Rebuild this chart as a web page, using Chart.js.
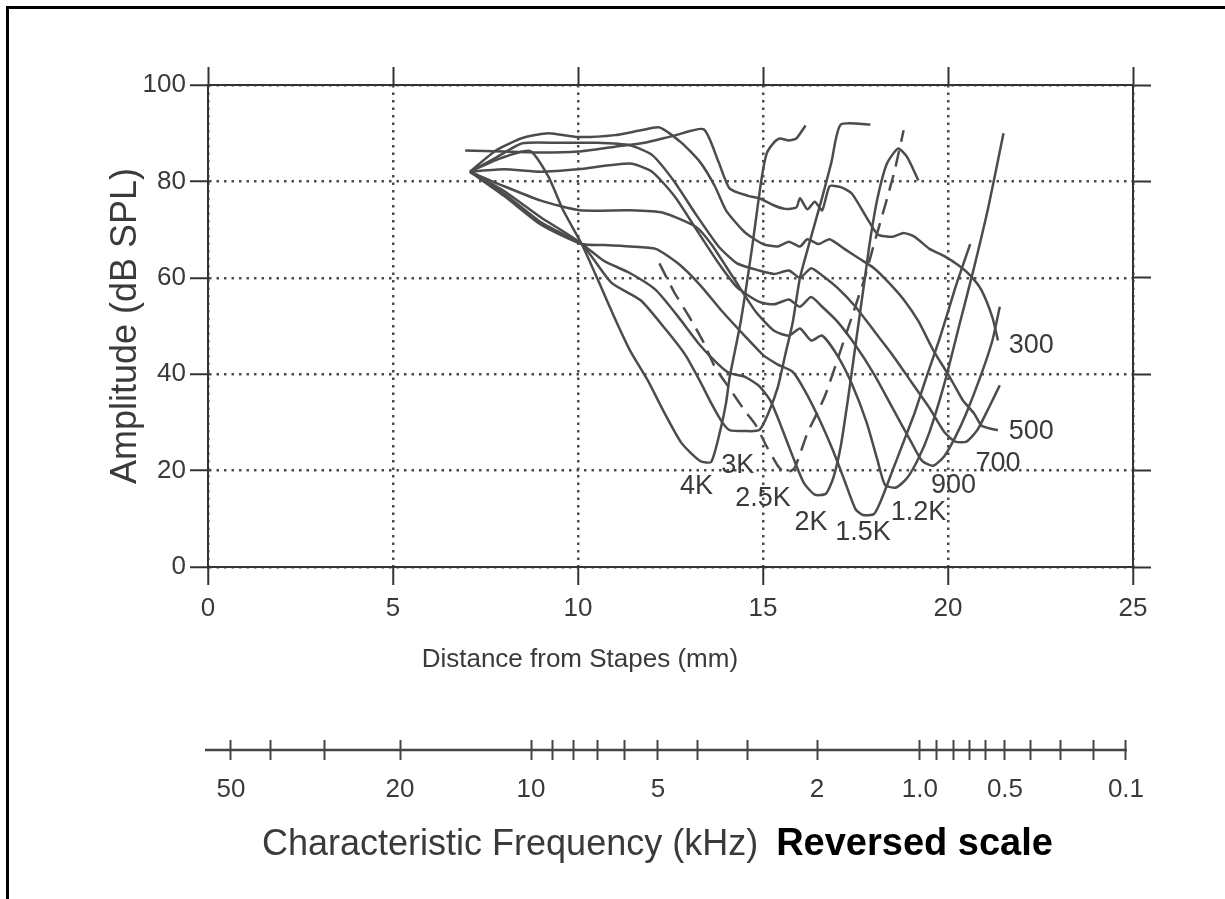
<!DOCTYPE html>
<html>
<head>
<meta charset="utf-8">
<script src="https://cdn.jsdelivr.net/npm/chart.js@4.4.1/dist/chart.umd.min.js"></script>
<style>
html,body{margin:0;padding:0;background:#fff;}
#wrap{position:absolute;left:0;top:0;width:1225px;height:899px;overflow:hidden;}
#frame{position:absolute;left:6px;top:6px;width:1230px;height:900px;border-left:3px solid #000;border-top:3px solid #000;box-sizing:border-box;pointer-events:none;}
canvas{position:absolute;left:0;top:0;}
</style>
</head>
<body>
<div id="wrap"><canvas id="c" width="1225" height="899"></canvas><div id="frame"></div></div>
<script>
// ---- data: [distance from stapes (mm), amplitude (dB SPL)] ----
const curve4K = [[7.08,82],[7.8,84.5],[8.7,86.3],[9.2,81],[9.6,74],[10.1,67],[10.6,58.5],[11.0,51.5],[11.4,45],[11.9,38.5],[12.3,32.5],[12.8,25.7],[13.3,22],[13.6,21.8],[13.85,28.5],[14.0,34],[14.1,39.4],[14.4,51],[14.7,66],[14.95,80],[15.1,85.8],[15.3,88.1],[15.45,88.9],[15.7,88.5],[15.9,88.9],[16.15,91.6]];
const curve3K = [[7.08,82],[8.0,78],[9.0,72.5],[10.1,67],[10.9,59],[11.7,55.3],[12.4,49],[12.9,44],[13.3,38.5],[13.6,34],[13.9,30],[14.1,28.4],[14.5,28.2],[14.9,28.4],[15.15,32],[15.4,37.3],[15.6,44],[15.8,50.6],[16.0,60],[16.3,68.5],[16.6,76.7],[16.85,84],[17.1,91.8],[17.9,91.8]];
const curve25K = [[12.2,63],[12.6,57],[13.0,52],[13.4,46.5],[13.7,41.5],[14.1,37],[14.5,32.5],[14.8,29.5],[15.1,25],[15.4,21],[15.6,19.5],[15.85,20.5],[16.2,27.8],[16.5,32.5],[16.7,36],[17.1,45],[17.45,53],[17.75,60],[18.0,67],[18.3,75],[18.55,82],[18.8,90.6]];
const curve2K = [[7.08,82],[8.0,77.5],[9.0,71.5],[10.1,67],[10.7,63.5],[11.4,61],[12.1,57.5],[12.7,52],[13.3,46],[13.8,42],[14.1,40.2],[14.5,39.5],[14.9,37.5],[15.2,34.5],[15.5,29],[15.8,23],[16.1,17.5],[16.4,15],[16.7,15.2],[16.9,18.5],[17.1,25],[17.3,35],[17.5,46],[17.7,57],[17.9,68],[18.1,76.7],[18.35,83.7],[18.65,86.8],[18.9,85],[19.2,80.2]];
const curve15K = [[7.08,82],[8.0,77],[9.0,71],[10.1,67],[10.7,66.8],[11.4,66.5],[12.1,66],[12.7,63],[13.3,58.5],[13.9,53],[14.5,48],[15.0,44],[15.4,42],[15.8,40.5],[16.1,37],[16.5,31],[16.9,24],[17.2,18],[17.5,12],[17.7,10.8],[18.0,11],[18.2,14],[18.5,20],[18.8,26],[19.1,32],[19.4,39],[19.8,48],[20.2,58],[20.6,67]];
const curve12K = [[7.08,82],[8.0,79],[9.0,76],[10.05,74],[11.4,74],[12.3,73.5],[13.2,70.5],[13.6,67],[14.2,60],[14.8,53],[15.3,49],[15.7,48],[16.0,49.5],[16.3,47],[16.6,48],[17.0,44],[17.4,38],[17.8,30],[18.1,22],[18.3,17],[18.6,16.5],[18.9,18.5],[19.2,22.5],[19.5,28],[19.9,38],[20.3,50],[20.7,62],[21.1,75],[21.5,90]];
const curve900 = [[7.08,82],[8.0,82.5],[9.0,82],[10.0,82.5],[11.4,83.7],[12.0,82],[12.6,77],[13.2,70],[13.8,63],[14.3,58],[14.9,55],[15.3,54.5],[15.7,55.5],[16.0,54],[16.3,56],[16.6,54],[17.0,51],[17.5,46],[18.0,40],[18.5,33],[19.0,26],[19.3,22],[19.6,21],[19.9,23],[20.2,27],[20.5,32],[20.9,40],[21.2,47],[21.4,54]];
const curve700 = [[7.08,82],[7.8,85],[8.5,87.9],[9.5,88],[10.5,88],[11.4,87.5],[12.0,85.5],[12.6,80],[13.2,73],[13.8,66.5],[14.3,63],[14.9,61.5],[15.3,60.8],[15.7,61.5],[16.0,60],[16.3,62],[16.6,60.5],[17.0,58],[17.5,54],[18.0,49],[18.5,44],[19.0,38.5],[19.5,33],[19.9,28],[20.2,26],[20.5,26],[20.8,28.5],[21.1,33],[21.4,37.7]];
const curve500 = [[7.08,82],[7.8,86.5],[8.5,89],[9.2,90],[10.0,89.2],[11.0,89.6],[11.7,90.6],[12.2,91.2],[12.8,88],[13.3,84],[13.7,79],[14.0,74],[14.5,69.5],[15.0,67],[15.4,66.5],[15.7,67.5],[16.0,66.5],[16.2,68],[16.5,67],[16.8,68],[17.2,66],[17.6,64],[18.0,62],[18.4,59],[18.8,55.5],[19.2,51],[19.6,45],[20.0,40],[20.2,37.3],[20.4,34.6],[20.7,31.9],[20.9,29.4],[21.1,28.8],[21.35,28.4]];
const curve300 = [[6.95,86.4],[8.0,86.2],[9.0,86],[10.0,86.2],[11.0,87.2],[11.8,88],[12.6,89.5],[13.4,90.8],[13.8,84],[14.1,78.5],[14.6,77],[14.9,76.5],[15.3,75],[15.6,74.3],[15.9,74.6],[16.0,76.5],[16.2,74.2],[16.4,75.8],[16.6,74],[16.8,79],[17.1,78.8],[17.4,77.5],[17.8,72.5],[18.1,69],[18.5,68.5],[18.8,69.3],[19.1,68.5],[19.5,66],[19.9,64.5],[20.3,62.5],[20.6,60.5],[20.9,57.5],[21.2,51.8],[21.35,47]];

// curve labels (frequency) and where they sit (mm, dB)
const labelText = ['4K','3K','2.5K','2K','1.5K','1.2K','900','700','500','300'];
const labelMm   = [13.2, 14.32, 15.0, 16.3, 17.7, 19.2, 20.15, 21.35, 22.25, 22.25];
const labelDb   = [16.7, 21.0, 14.3, 9.2, 7.2, 11.4, 17.0, 21.5, 28.2, 46.0];

// characteristic-frequency scale (kHz) and its position along the cochlea (mm)
const freqTickMm     = [0.62,1.70,3.14,5.19,8.73,9.32,9.89,10.54,11.27,12.16,13.22,14.59,16.46,19.24,19.68,20.16,20.57,21.0,21.54,22.22,23.03,23.92,24.81];
const freqTickLabels = ['50','','','20','10','','','','','5','','','2','1.0','','','','','0.5','','','','0.1'];

// ---- rendering ----
const FONT = '"Liberation Sans", Arial, Helvetica, sans-serif';
const INK = '#3a3a3a';
const LINE = '#4c4c4c';
const FRAME = '#333';

const series = [
  ['4K', curve4K, false], ['3K', curve3K, false], ['2.5K', curve25K, true], ['2K', curve2K, false],
  ['1.5K', curve15K, false], ['1.2K', curve12K, false], ['900', curve900, false], ['700', curve700, false],
  ['500', curve500, false], ['300', curve300, false]
];
const datasets = series.map(([name, pts, dashed]) => ({
  label: name,
  data: pts.map(p => ({x: p[0], y: p[1]})),
  showLine: true, pointRadius: 0, pointHoverRadius: 0,
  borderColor: LINE, borderWidth: 2.5, borderDash: dashed ? [16, 9] : [],
  tension: 0.2, fill: false, xAxisID: 'x', yAxisID: 'y'
}));

const annotate = {
  id: 'annotate',
  afterDraw(chart) {
    const {ctx} = chart;
    const x = chart.scales.x, y = chart.scales.y, xf = chart.scales.xf;
    ctx.save();
    ctx.fillStyle = INK;
    ctx.font = '27px ' + FONT;
    ctx.textAlign = 'center';
    ctx.textBaseline = 'middle';
    labelText.forEach((t, i) => ctx.fillText(t, x.getPixelForValue(labelMm[i]), y.getPixelForValue(labelDb[i])));
    // distance axis title
    ctx.font = '26px ' + FONT;
    ctx.fillText('Distance from Stapes (mm)', x.getPixelForValue(10.05), x.top + 93);
    // frequency axis line
    const ly = xf.top + 10;
    ctx.strokeStyle = '#444';
    ctx.lineWidth = 2.5;
    ctx.beginPath();
    ctx.moveTo(xf.getPixelForValue(0) - 3, ly);
    ctx.lineTo(xf.getPixelForValue(freqTickMm[freqTickMm.length - 1]) + 1, ly);
    ctx.stroke();
    // frequency axis title
    const t1 = 'Characteristic Frequency (kHz)', t2 = 'Reversed scale';
    ctx.textAlign = 'left';
    ctx.font = '36px ' + FONT; ctx.fillStyle = INK;
    const w1 = ctx.measureText(t1).width;
    const sx = xf.getPixelForValue(1.46);
    const ty = xf.bottom + 35;
    ctx.fillText(t1, sx, ty);
    ctx.font = 'bold 38px ' + FONT; ctx.fillStyle = '#000';
    ctx.fillText(t2, sx + w1 + 18, ty);
    ctx.restore();
  }
};

const tickFont = {family: FONT, size: 26};

new Chart(document.getElementById('c'), {
  type: 'scatter',
  data: {datasets},
  plugins: [annotate],
  options: {
    responsive: false, animation: false, devicePixelRatio: 1,
    layout: {padding: {left: 104, right: 72, top: 67, bottom: 89}},
    plugins: {legend: {display: false}, tooltip: {enabled: false}},
    scales: {
      x: {
        type: 'linear', position: 'bottom', min: 0, max: 25, weight: 0,
        ticks: {stepSize: 5, font: tickFont, color: INK, padding: 8, maxRotation: 0},
        grid: {color: LINE, lineWidth: 2.5, tickLength: 18, tickColor: FRAME, tickWidth: 2},
        border: {color: FRAME, width: 2, dash: [2.5, 5]},
        afterFit: s => { s.height = 173; }
      },
      xf: {
        type: 'linear', position: 'bottom', min: 0, max: 25, weight: 1,
        afterBuildTicks: s => { s.ticks = freqTickMm.map(v => ({value: v})); },
        ticks: {autoSkip: false, maxRotation: 0, font: tickFont, color: INK, padding: 14,
                callback: (v, i) => freqTickLabels[i]},
        grid: {drawOnChartArea: false, tickLength: 20, tickColor: '#444', tickWidth: 2},
        border: {display: false},
        afterFit: s => { s.height = 70; }
      },
      xt: {
        type: 'linear', position: 'top', min: 0, max: 25,
        ticks: {display: false, stepSize: 5},
        grid: {drawOnChartArea: false, tickLength: 18, tickColor: FRAME, tickWidth: 2},
        border: {color: FRAME, width: 2},
        afterFit: s => { s.height = 18; }
      },
      y: {
        type: 'linear', position: 'left', min: 0, max: 100,
        ticks: {stepSize: 20, font: tickFont, color: INK, padding: 4},
        grid: {color: LINE, lineWidth: 2.5, tickLength: 18, tickColor: FRAME, tickWidth: 2},
        border: {color: FRAME, width: 2, dash: [2.5, 5]},
        title: {display: true, text: 'Amplitude (dB SPL)', font: {family: FONT, size: 36}, color: INK, padding: {top: 0, bottom: 0}},
        afterFit: s => { s.width = 104; }
      },
      yr: {
        type: 'linear', position: 'right', min: 0, max: 100,
        ticks: {display: false, stepSize: 20},
        grid: {drawOnChartArea: false, tickLength: 18, tickColor: FRAME, tickWidth: 2},
        border: {color: FRAME, width: 2},
        afterFit: s => { s.width = 20; }
      }
    }
  }
});
</script>
</body>
</html>
